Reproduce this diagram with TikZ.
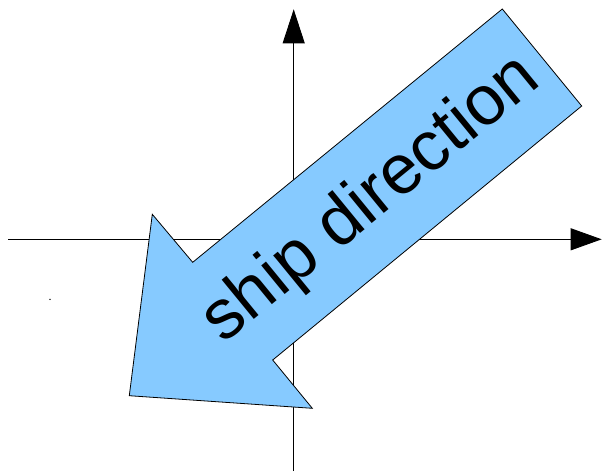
\documentclass[tikz,border=0pt]{standalone}
\usepackage{fontspec}
\setmainfont{Liberation Sans}
\usetikzlibrary{arrows.meta}
\definecolor{shipblue}{HTML}{86CAFF}
\tikzset{
  axis/.style={line width=0.9pt, black},
  shiparrow/.style={draw=black, line width=0.8pt, fill=shipblue, line join=miter},
  shiplabel/.style={font=\fontsize{70}{82}\selectfont, inner sep=0pt, rotate=39.3}
}
\begin{document}
\begin{tikzpicture}[x=1pt,y=-1pt]
\useasboundingbox (0,0) rectangle (602,472);
% axes
\coordinate (xl) at (8,239.3);
\coordinate (xr) at (601.7,239.3);
\coordinate (yb) at (293.7,471);
\coordinate (yt) at (293.7,9.3);
\draw[axis,-{Triangle[length=31pt,width=22pt]}] (xl) -- (xr);
\draw[axis,-{Triangle[length=34pt,width=22pt]}] (yb) -- (yt);
% tiny dot
\fill (50,299.3) circle (0.8);
% big arrow
\coordinate (tip) at (129.3,395.7);
\coordinate (lw) at (152.3,214.3);
\coordinate (ln) at (192.7,262.3);
\coordinate (tc) at (502.3,9);
\coordinate (rc) at (581.7,106);
\coordinate (rn) at (272.7,360);
\coordinate (rw) at (312.3,408.3);
\draw[shiparrow] (tip) -- (lw) -- (ln) -- (tc) -- (rc) -- (rn) -- (rw) -- cycle;
\node[shiplabel] (lbl) at (372,200) {ship direction};
\end{tikzpicture}
\end{document}
